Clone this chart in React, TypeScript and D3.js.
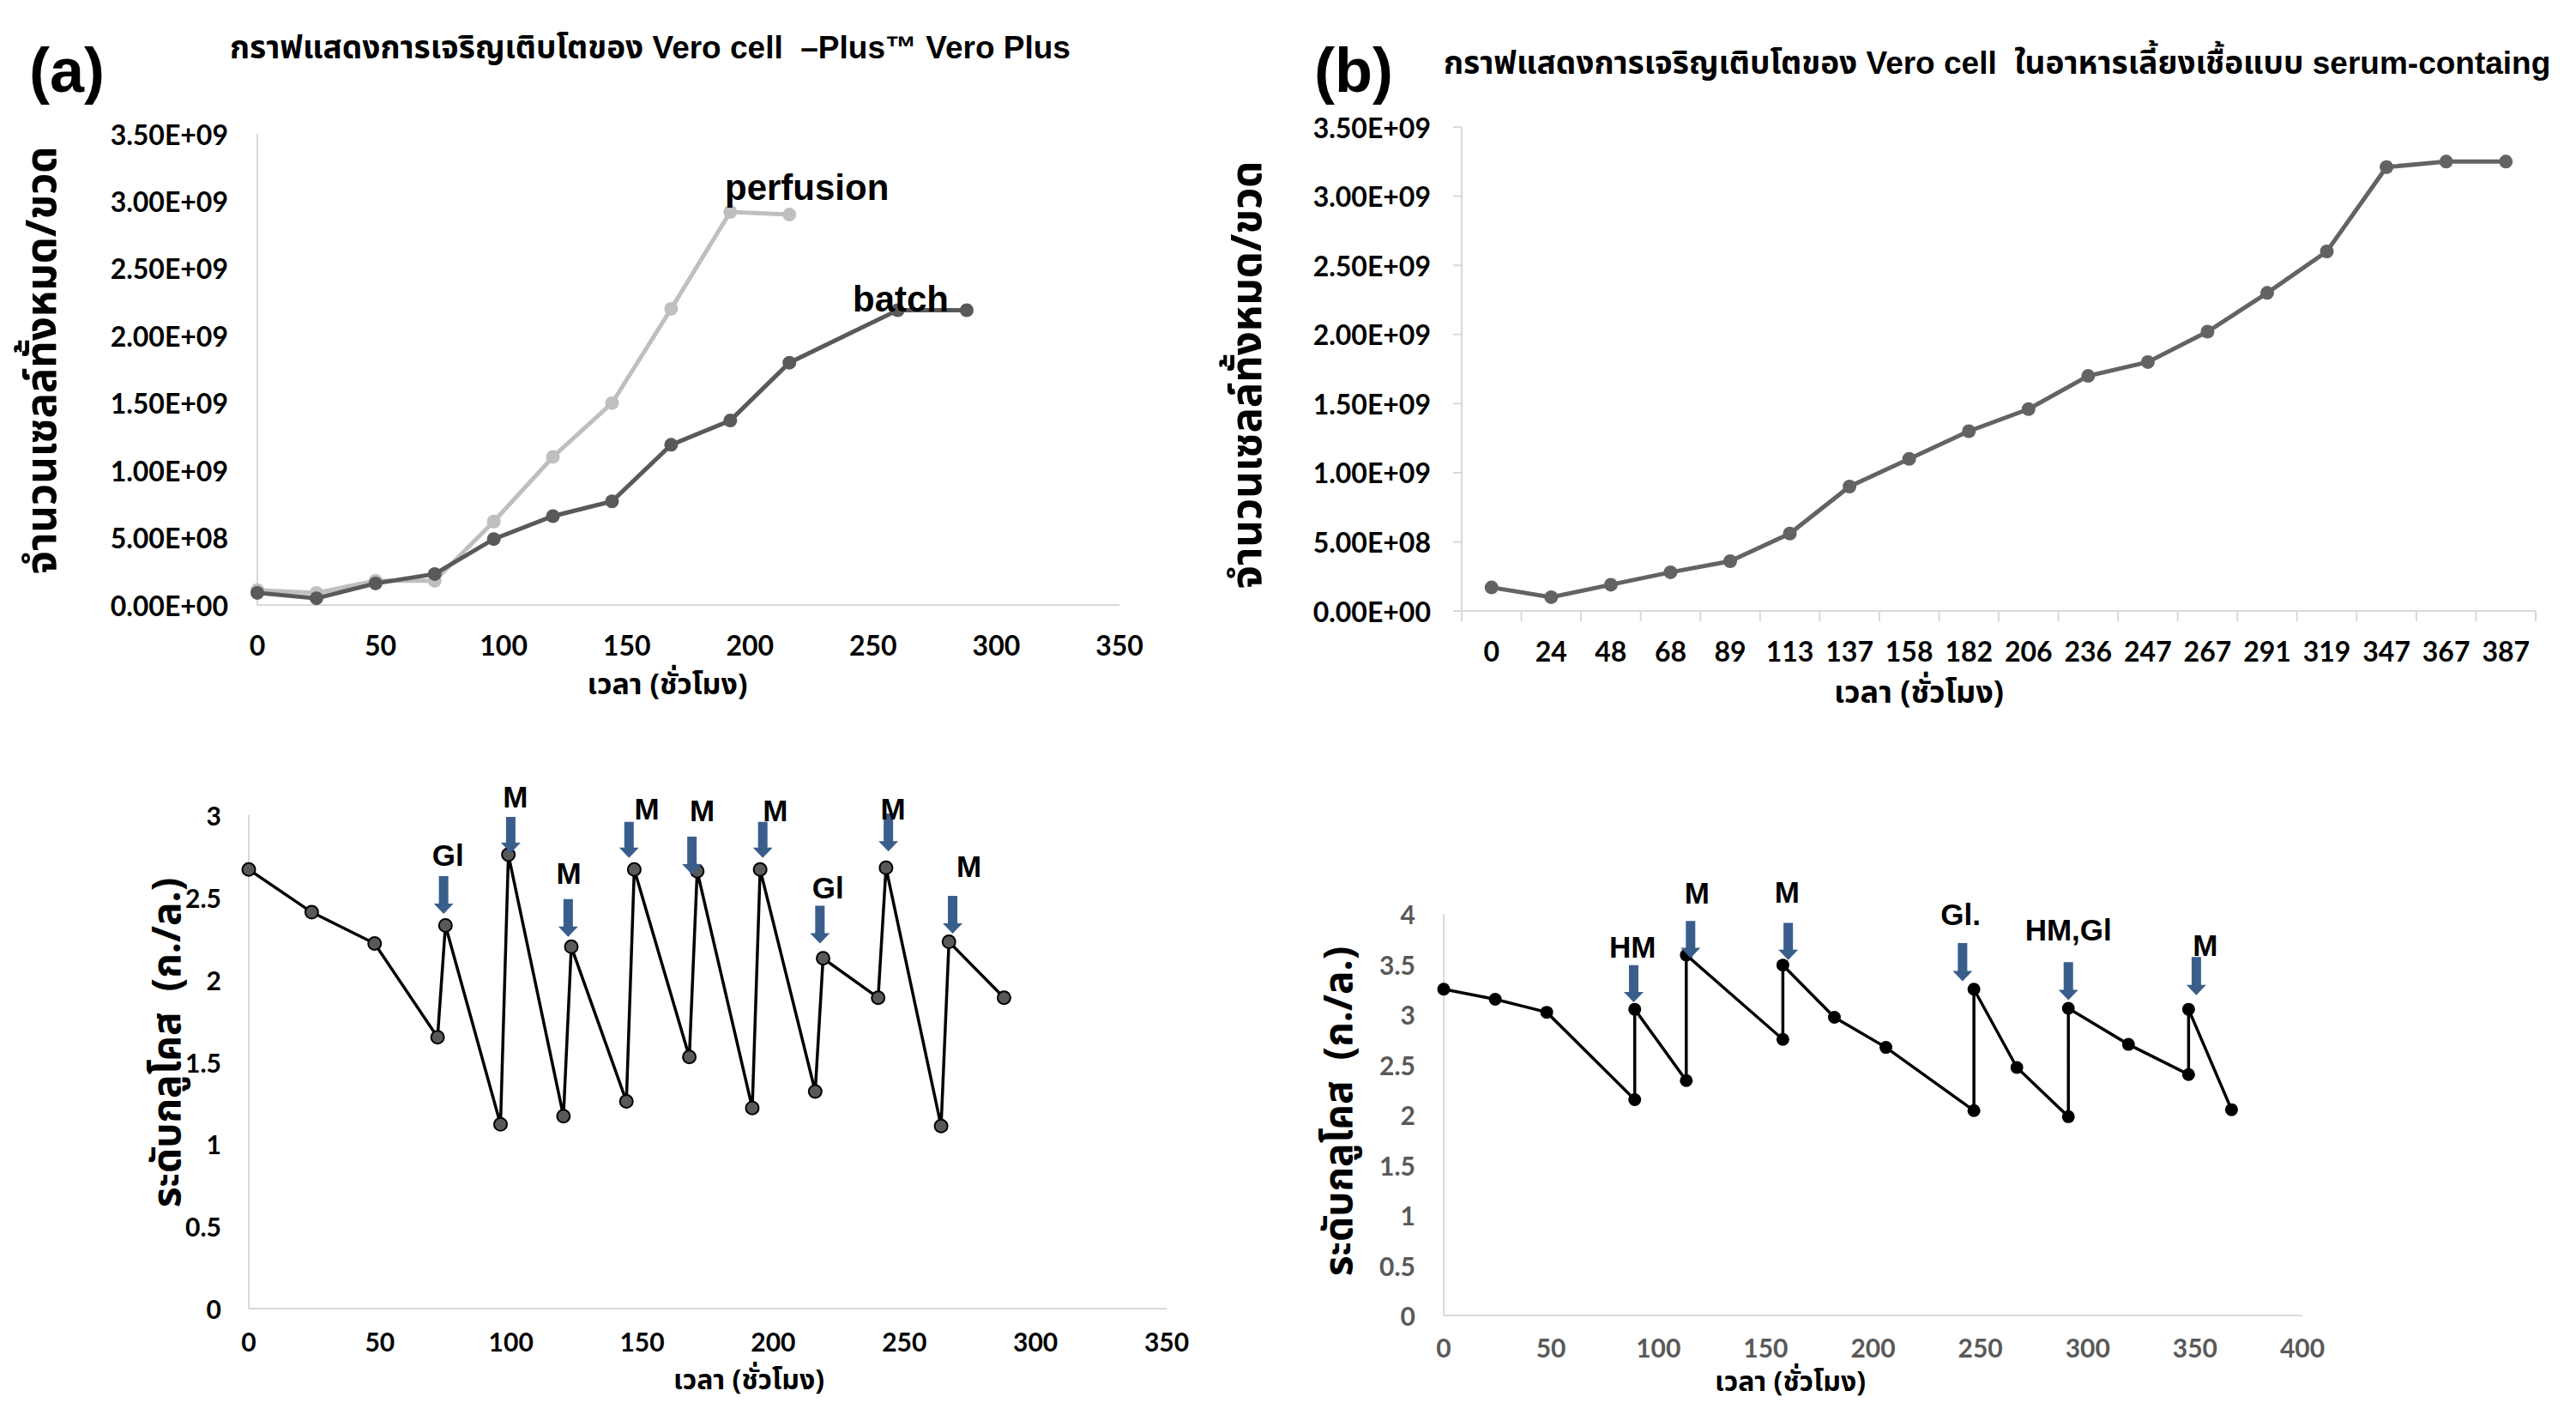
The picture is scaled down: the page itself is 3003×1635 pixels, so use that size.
import React from 'react';
import * as d3 from 'd3';

// ---- (a) cell growth, Vero Plus ----
const perfusionHours = [0, 24, 48, 72, 96, 120, 144, 168, 192, 216];
const perfusionCells = [1.1e8, 0.9e8, 1.8e8, 1.8e8, 6.2e8, 1.1e9, 1.5e9, 2.2e9, 2.92e9, 2.9e9];
const batchHours = [0, 24, 48, 72, 96, 120, 144, 168, 192, 216, 260, 288];
const batchCells = [0.9e8, 0.5e8, 1.6e8, 2.3e8, 4.9e8, 6.6e8, 7.7e8, 1.19e9, 1.37e9, 1.8e9, 2.19e9, 2.19e9];
const hourTicksA = [0, 50, 100, 150, 200, 250, 300, 350];
const cellTicks = [0, 0.5e9, 1e9, 1.5e9, 2e9, 2.5e9, 3e9, 3.5e9];

// ---- (b) cell growth, serum-containing medium ----
const serumHours = ['0', '24', '48', '68', '89', '113', '137', '158', '182', '206', '236', '247', '267', '291', '319', '347', '367', '387'];
const serumCells = [1.7e8, 1.0e8, 1.9e8, 2.8e8, 3.6e8, 5.6e8, 9.0e8, 1.1e9, 1.3e9, 1.46e9, 1.7e9, 1.8e9, 2.02e9, 2.3e9, 2.6e9, 3.21e9, 3.25e9, 3.25e9];

// ---- glucose (a) ----
const glucoseAHours = [0, 24, 48, 72, 75, 96, 99, 120, 123, 144, 147, 168, 171, 192, 195, 216, 219, 240, 243, 264, 267, 288];
const glucoseAValues = [2.67, 2.41, 2.22, 1.65, 2.33, 1.12, 2.76, 1.17, 2.2, 1.26, 2.67, 1.53, 2.66, 1.22, 2.67, 1.32, 2.13, 1.89, 2.68, 1.11, 2.23, 1.89];
const glucoseATicks = [0, 0.5, 1, 1.5, 2, 2.5, 3];
const glucoseAEvents = [
  { label: 'Gl', x: 74.3, top: 2.63, tip: 2.4, lx: 76, ly: 2.76 },
  { label: 'M', x: 99.9, top: 2.99, tip: 2.77, lx: 101.7, ly: 3.11 },
  { label: 'M', x: 121.8, top: 2.49, tip: 2.26, lx: 122, ly: 2.65 },
  { label: 'M', x: 145, top: 2.96, tip: 2.74, lx: 151.8, ly: 3.04 },
  { label: 'M', x: 169, top: 2.87, tip: 2.64, lx: 172.9, ly: 3.03 },
  { label: 'M', x: 196, top: 2.96, tip: 2.74, lx: 200.8, ly: 3.03 },
  { label: 'Gl', x: 217.8, top: 2.45, tip: 2.22, lx: 220.9, ly: 2.56 },
  { label: 'M', x: 243.9, top: 3.01, tip: 2.78, lx: 245.7, ly: 3.04 },
  { label: 'M', x: 268.4, top: 2.51, tip: 2.28, lx: 274.6, ly: 2.69 },
];

// ---- glucose (b) ----
const glucoseBHours = [0, 24, 48, 89, 89, 113, 113, 158, 158, 182, 206, 247, 247, 267, 291, 291, 319, 347, 347, 367];
const glucoseBValues = [3.25, 3.15, 3.02, 2.15, 3.05, 2.34, 3.59, 2.75, 3.49, 2.97, 2.67, 2.04, 3.25, 2.47, 1.98, 3.06, 2.7, 2.4, 3.05, 2.05];
const glucoseBTicks = [0, 0.5, 1, 1.5, 2, 2.5, 3, 3.5, 4];
const hourTicksB = [0, 50, 100, 150, 200, 250, 300, 350, 400];
const glucoseBEvents = [
  { label: 'HM', x: 88.5, top: 3.49, tip: 3.12, lx: 88, ly: 3.67 },
  { label: 'M', x: 115, top: 3.93, tip: 3.56, lx: 118, ly: 4.21 },
  { label: 'M', x: 160.5, top: 3.91, tip: 3.54, lx: 160, ly: 4.22 },
  { label: 'Gl.', x: 241.7, top: 3.71, tip: 3.33, lx: 240.8, ly: 4.0 },
  { label: 'HM,Gl', x: 291, top: 3.52, tip: 3.14, lx: 291, ly: 3.84 },
  { label: 'M', x: 350.6, top: 3.57, tip: 3.19, lx: 354.8, ly: 3.69 },
];

const ARIAL = "'Liberation Sans', Arial, 'Noto Sans Thai', sans-serif";
const NUM = "Lato, 'Noto Sans', sans-serif";
const THAI = "'Noto Sans Thai', 'Noto Sans', 'Liberation Sans', sans-serif";
const AXIS = '#d9d9d9';
const ARROW = '#3a5e8c';

const fmtE = (v: number) => {
  const [m, e] = v.toExponential(2).split('e');
  const n = parseInt(e, 10);
  return `${m}E${n < 0 ? '-' : '+'}${String(Math.abs(n)).padStart(2, '0')}`;
};

const zip = (xs: any[], ys: number[]) => xs.map((x, i) => [x, ys[i]] as [any, number]);

const Arrows = ({ events, xs, ys }: any) => (
  <g>
    {events.map((ev: any, i: number) => {
      const x = xs(ev.x), t = ys(ev.top), p = ys(ev.tip);
      const d = `M${x - 5.5},${t}L${x + 5.5},${t}L${x + 5.5},${p - 12}L${x + 11.5},${p - 12}L${x},${p}L${x - 11.5},${p - 12}L${x - 5.5},${p - 12}Z`;
      return (
        <g key={i}>
          <path d={d} fill={ARROW} />
          <text x={xs(ev.lx)} y={ys(ev.ly)} textAnchor="middle" dominantBaseline="central"
            fontFamily={ARIAL} fontWeight="bold" fontSize={35}>{ev.label}</text>
        </g>
      );
    })}
  </g>
);

export default function App() {
  // panel (a)
  const xA = d3.scaleLinear().domain([0, 350]).range([300, 1305]);
  const yA = d3.scaleLinear().domain([0, 3.5e9]).range([705, 156]);
  const lineA = d3.line<[number, number]>().x(d => xA(d[0])).y(d => yA(d[1]));
  const perf = zip(perfusionHours, perfusionCells);
  const batch = zip(batchHours, batchCells);

  // panel (b)
  const xB = d3.scaleBand<string>().domain(serumHours).range([1704, 2956]);
  const yB = d3.scaleLinear().domain([0, 3.5e9]).range([712, 148]);
  const bw = xB.bandwidth();
  const lineB = d3.line<[string, number]>().x(d => (xB(d[0]) as number) + bw / 2).y(d => yB(d[1]));
  const serum = zip(serumHours, serumCells) as [string, number][];

  // glucose (a)
  const xC = d3.scaleLinear().domain([0, 350]).range([290, 1360]);
  const yC = d3.scaleLinear().domain([0, 3]).range([1525, 950]);
  const glcA = zip(glucoseAHours, glucoseAValues);

  // glucose (b)
  const xD = d3.scaleLinear().domain([0, 400]).range([1683, 2684]);
  const yD = d3.scaleLinear().domain([0, 4]).range([1533, 1065]);
  const glcB = zip(glucoseBHours, glucoseBValues);

  const xTitle = 'เวลา (ชั่วโมง)';
  const cellTitle = 'จำนวนเซลล์ทั้งหมด/ขวด';
  const glcTitle = 'ระดับกลูโคส  (ก./ล.)';

  return (
    <div style={{ position: 'absolute', left: 0, top: 0 }}>
      <svg width={3003} height={1635} style={{ display: 'block', background: '#fff' }}>
        {/* ---------- (a) ---------- */}
        <text x={34} y={82} fontFamily={ARIAL} fontWeight="bold" fontSize={72} dominantBaseline="central">(a)</text>
        <text x={268} y={55} dominantBaseline="central" fontFamily={ARIAL} fontWeight="bold"
          fontSize={37} style={{ whiteSpace: 'pre' }}>กราฟแสดงการเจริญเติบโตของ Vero cell  –Plus™ Vero Plus</text>
        <line x1={300} x2={300} y1={156} y2={705} stroke={AXIS} strokeWidth={2} />
        <line x1={300} x2={1305} y1={705} y2={705} stroke={AXIS} strokeWidth={2} />
        {cellTicks.map(t => (
          <text key={t} x={266} y={yA(t)} textAnchor="end" dominantBaseline="central" fontFamily={NUM}
            fontWeight="bold" fontSize={32}>{fmtE(t)}</text>
        ))}
        {hourTicksA.map(t => (
          <text key={t} x={xA(t)} y={751} textAnchor="middle" dominantBaseline="central" fontFamily={NUM}
            fontWeight="bold" fontSize={32}>{t}</text>
        ))}
        <text x={778} y={798} textAnchor="middle" dominantBaseline="central" fontFamily={THAI} fontWeight="bold" fontSize={34}>{xTitle}</text>
        <text transform="translate(50,420) rotate(-90)" textAnchor="middle" dominantBaseline="central" fontFamily={THAI}
          fontWeight="bold" fontSize={49}>{cellTitle}</text>
        <path d={lineA(perf) as string} fill="none" stroke="#bfbfbf" strokeWidth={5} />
        {perf.map((d, i) => <circle key={i} cx={xA(d[0])} cy={yA(d[1])} r={8} fill="#bfbfbf" />)}
        <path d={lineA(batch) as string} fill="none" stroke="#595959" strokeWidth={5} />
        {batch.map((d, i) => <circle key={i} cx={xA(d[0])} cy={yA(d[1])} r={8} fill="#595959" />)}
        <text x={845} y={218} dominantBaseline="central" fontFamily={ARIAL} fontWeight="bold" fontSize={42}>perfusion</text>
        <text x={994} y={348} dominantBaseline="central" fontFamily={ARIAL} fontWeight="bold" fontSize={42}>batch</text>

        {/* ---------- (b) ---------- */}
        <text x={1532} y={82} fontFamily={ARIAL} fontWeight="bold" fontSize={72} dominantBaseline="central">(b)</text>
        <text x={1683} y={73} dominantBaseline="central" fontFamily={ARIAL} fontWeight="bold" fontSize={37}
          style={{ whiteSpace: 'pre' }}>กราฟแสดงการเจริญเติบโตของ Vero cell  ในอาหารเลี้ยงเชื้อแบบ serum-containg</text>
        <line x1={1704} x2={1704} y1={148} y2={712} stroke={AXIS} strokeWidth={2} />
        <line x1={1704} x2={2956} y1={712} y2={712} stroke={AXIS} strokeWidth={2} />
        {cellTicks.map(t => (
          <g key={t}>
            <line x1={1694} x2={1704} y1={yB(t)} y2={yB(t)} stroke={AXIS} strokeWidth={2} />
            <text x={1668} y={yB(t)} textAnchor="end" dominantBaseline="central" fontFamily={NUM}
              fontWeight="bold" fontSize={32}>{fmtE(t)}</text>
          </g>
        ))}
        {serumHours.map(h => (
          <g key={h}>
            <line x1={xB(h)} x2={xB(h)} y1={712} y2={724} stroke={AXIS} strokeWidth={2} />
            <text x={(xB(h) as number) + bw / 2} y={758} textAnchor="middle" dominantBaseline="central" fontFamily={NUM}
              fontWeight="bold" fontSize={32}>{h}</text>
          </g>
        ))}
        <line x1={xB.range()[1]} x2={xB.range()[1]} y1={712} y2={724} stroke={AXIS} strokeWidth={2} />
        <text x={2237} y={808} textAnchor="middle" dominantBaseline="central" fontFamily={THAI} fontWeight="bold" fontSize={36}>{xTitle}</text>
        <text transform="translate(1455,437) rotate(-90)" textAnchor="middle" dominantBaseline="central" fontFamily={THAI}
          fontWeight="bold" fontSize={49}>{cellTitle}</text>
        <path d={lineB(serum) as string} fill="none" stroke="#636363" strokeWidth={5} />
        {serum.map((d, i) => <circle key={i} cx={(xB(d[0]) as number) + bw / 2} cy={yB(d[1])} r={8} fill="#636363" />)}

        {/* ---------- glucose (a) ---------- */}
        <line x1={290} x2={290} y1={950} y2={1525} stroke={AXIS} strokeWidth={2} />
        <line x1={290} x2={1360} y1={1525} y2={1525} stroke={AXIS} strokeWidth={2} />
        {glucoseATicks.map(t => (
          <text key={t} x={258} y={yC(t)} textAnchor="end" dominantBaseline="central" fontFamily={NUM}
            fontWeight="bold" fontSize={30}>{t}</text>
        ))}
        {hourTicksA.map(t => (
          <text key={t} x={xC(t)} y={1563} textAnchor="middle" dominantBaseline="central" fontFamily={NUM}
            fontWeight="bold" fontSize={30}>{t}</text>
        ))}
        <text x={873} y={1609} textAnchor="middle" dominantBaseline="central" fontFamily={THAI} fontWeight="bold" fontSize={32}>{xTitle}</text>
        <text transform="translate(196,1215) rotate(-90)" textAnchor="middle" dominantBaseline="central" fontFamily={THAI}
          fontWeight="bold" fontSize={46} style={{ whiteSpace: 'pre' }}>{glcTitle}</text>
        <path d={(d3.line<[number, number]>().x(d => xC(d[0])).y(d => yC(d[1])))(glcA) as string} fill="none" stroke="#000" strokeWidth={3.5} />
        {glcA.map((d, i) => <circle key={i} cx={xC(d[0])} cy={yC(d[1])} r={7.5} fill="#595959" stroke="#000" strokeWidth={2} />)}
        <Arrows events={glucoseAEvents} xs={xC} ys={yC} />

        {/* ---------- glucose (b) ---------- */}
        <line x1={1683} x2={1683} y1={1065} y2={1533} stroke={AXIS} strokeWidth={2} />
        <line x1={1683} x2={2684} y1={1533} y2={1533} stroke={AXIS} strokeWidth={2} />
        {glucoseBTicks.map(t => (
          <text key={t} x={1650} y={yD(t)} textAnchor="end" dominantBaseline="central" fontFamily={NUM}
            fontWeight="bold" fontSize={30} fill="#595959">{t}</text>
        ))}
        {hourTicksB.map(t => (
          <text key={t} x={xD(t)} y={1570} textAnchor="middle" dominantBaseline="central" fontFamily={NUM}
            fontWeight="bold" fontSize={30} fill="#595959">{t}</text>
        ))}
        <text x={2087} y={1611} textAnchor="middle" dominantBaseline="central" fontFamily={THAI} fontWeight="bold" fontSize={32}>{xTitle}</text>
        <text transform="translate(1562,1295) rotate(-90)" textAnchor="middle" dominantBaseline="central" fontFamily={THAI}
          fontWeight="bold" fontSize={46} style={{ whiteSpace: 'pre' }}>{glcTitle}</text>
        <path d={(d3.line<[number, number]>().x(d => xD(d[0])).y(d => yD(d[1])))(glcB) as string} fill="none" stroke="#000" strokeWidth={3.5} />
        {glcB.map((d, i) => <circle key={i} cx={xD(d[0])} cy={yD(d[1])} r={7.5} fill="#000" />)}
        <Arrows events={glucoseBEvents} xs={xD} ys={yD} />
      </svg>
    </div>
  );
}
